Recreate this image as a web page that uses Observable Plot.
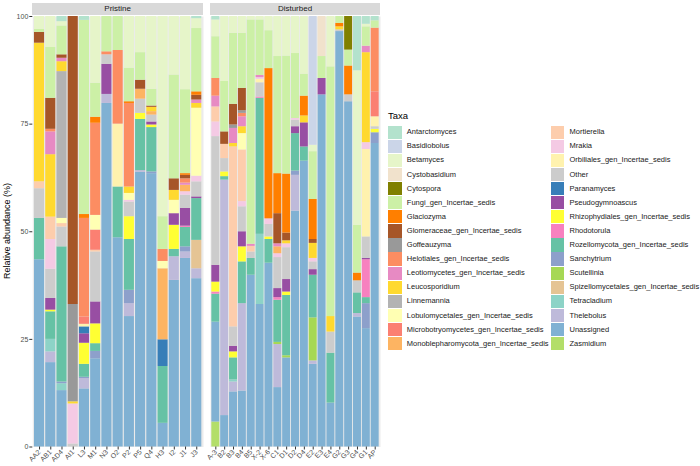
<!DOCTYPE html>
<html><head><meta charset="utf-8">
<script src="https://cdn.jsdelivr.net/npm/d3@7"></script>
<script src="https://cdn.jsdelivr.net/npm/@observablehq/plot@0.6"></script>
<style>
body{margin:0;background:#fff;font-family:"Liberation Sans",Arial,sans-serif;}
#wrap{position:relative;width:700px;height:466px;overflow:hidden;}
#wrap svg{position:absolute;top:0;}
.strip{position:absolute;top:3px;height:12px;line-height:12px;background:#D9D9D9;color:#1A1A1A;font-size:8px;text-align:center;}
.ytitle{position:absolute;left:-93px;top:225px;width:200px;height:12px;line-height:12px;font-size:9px;color:#000;text-align:center;transform:rotate(-90deg);}
.ltitle{position:absolute;left:388px;top:110px;font-size:9.5px;color:#000;line-height:12px;}
.key{position:absolute;width:13.4px;height:13.4px;}
.ltxt{position:absolute;font-size:7.5px;color:#1A1A1A;line-height:10px;white-space:nowrap;}
</style></head>
<body><div id="wrap"></div>
<script>
const taxa = ["Antarctomyces","Basidiobolus","Betamyces","Cystobasidium","Cytospora","Fungi_gen_Incertae_sedis","Glaciozyma","Glomeraceae_gen_Incertae_sedis","Goffeauzyma","Helotiales_gen_Incertae_sedis","Leotiomycetes_gen_Incertae_sedis","Leucosporidium","Linnemannia","Lobulomycetales_gen_Incertae_sedis","Microbotryomycetes_gen_Incertae_sedis","Monoblepharomycota_gen_Incertae_sedis","Mortierella","Mrakia","Orbiliales_gen_Incertae_sedis","Other","Paranamyces","Pseudogymnoascus","Rhizophydiales_gen_Incertae_sedis","Rhodotorula","Rozellomycota_gen_Incertae_sedis","Sanchytrium","Scutellinia","Spizellomycetales_gen_Incertae_sedis","Tetracladium","Thelebolus","Unassigned","Zasmidium"];
const taxaColors = ["#B3E2CD","#CBD5E8","#E6F5C9","#F1E2CC","#808000","#CCF0A6","#FF7F00","#A65628","#999999","#FC8D62","#E78AC3","#FFD92F","#B3B3B3","#FFFFB3","#FB8072","#FDB462","#FDCDAC","#F4CAE4","#FFF2AE","#CCCCCC","#377EB8","#984EA3","#FFFF33","#F781BF","#66C2A5","#8DA0CB","#A6D854","#E5C494","#8DD3C7","#BEBADA","#80B1D3","#B3DE69"];

const pristineSamples = ["AA2","AB1","AD4","AI1","L3","M1","N3","O2","P2","P5","Q4","H3","I2","J1","J3"];
const disturbedSamples = ["A-3","B2","B3","B4","B5","X-2","X-6","C1","D1","D2","D4","E2","E3","E4","G2","G3","G4","G1","AP"];

// relative abundance (%) per sample: [taxon, percent]
const s_AA2 = [["Unassigned",43.5],["Rozellomycota",9.6],["Other",6.9],["Mortierella",1.6],["Leucosporidium",32.2],["Glomeraceae",2.5],["Fungi",0.7],["Betamyces",3.0]];
const s_AB1 = [["Unassigned",19.6],["Thelebolus",2.5],["Tetracladium",2.9],["Rozellomycota",6.4],["Rhizophydiales",0.4],["Pseudogymnoascus",2.7],["Other",6.8],["Mrakia",6.9],["Mortierella",5.2],["Leucosporidium",14.5],["Leotiomycetes",5.3],["Helotiales",0.6],["Glomeraceae",7.2],["Fungi",11.8],["Betamyces",7.2]];
const s_AD4 = [["Unassigned",13.1],["Tetracladium",1.6],["Sanchytrium",0.4],["Rozellomycota",31.4],["Other",4.6],["Mortierella",0.8],["Lobulomycetales",1.2],["Linnemannia",34.1],["Leucosporidium",2.3],["Leotiomycetes",0.8],["Glomeraceae",0.8],["Fungi",6.7],["Betamyces",1.0],["Antarctomyces",1.2]];
const s_AI1 = [["Other",0.7],["Mrakia",9.3],["Leucosporidium",0.5],["Goffeauzyma",22.6],["Glomeraceae",66.9]];
const s_L3 = [["Unassigned",13.5],["Thelebolus",2.4],["Sanchytrium",0.3],["Rozellomycota",3.0],["Rhizophydiales",4.9],["Pseudogymnoascus",2.2],["Paranamyces",1.6],["Orbiliales",0.6],["Microbotryomycetes",1.7],["Helotiales",22.9],["Glaciozyma",0.9],["Fungi",45.1],["Antarctomyces",0.9]];
const s_M1 = [["Unassigned",20.5],["Sanchytrium",1.7],["Rozellomycota",1.8],["Rhizophydiales",4.6],["Pseudogymnoascus",5.1],["Other",11.6],["Mortierella",0.4],["Microbotryomycetes",4.7],["Lobulomycetales",3.4],["Helotiales",21.4],["Glaciozyma",1.4],["Fungi",7.9],["Betamyces",15.5]];
const s_N3 = [["Unassigned",79.8],["Thelebolus",2.1],["Pseudogymnoascus",7.0],["Other",2.2],["Helotiales",0.7],["Fungi",8.2]];
const s_O2 = [["Unassigned",48.6],["Rozellomycota",11.8],["Orbiliales",14.6],["Helotiales",17.1],["Fungi",7.9]];
const s_P2 = [["Unassigned",30.3],["Thelebolus",3.0],["Sanchytrium",3.1],["Rozellomycota",11.8],["Rhizophydiales",5.3],["Other",3.4],["Mrakia",0.4],["Lobulomycetales",1.6],["Leucosporidium",1.5],["Helotiales",19.4],["Glaciozyma",0.4],["Fungi",7.8],["Betamyces",12.0]];
const s_P5 = [["Unassigned",63.8],["Thelebolus",0.4],["Rozellomycota",11.9],["Rhizophydiales",1.4],["Other",3.3],["Monoblepharomycota",2.3],["Glomeraceae",2.1],["Fungi",6.4],["Betamyces",8.4]];
const s_Q4 = [["Unassigned",63.5],["Sanchytrium",0.4],["Rozellomycota",10.3],["Rhizophydiales",0.6],["Pseudogymnoascus",0.7],["Other",1.6],["Monoblepharomycota",0.8],["Leucosporidium",1.0],["Glomeraceae",0.3],["Fungi",3.9],["Betamyces",16.9]];
const s_H3 = [["Unassigned",5.5],["Rozellomycota",13.2],["Paranamyces",6.2],["Monoblepharomycota",16.5],["Lobulomycetales",1.7],["Helotiales",2.8],["Fungi",7.6],["Betamyces",46.5]];
const s_I2 = [["Unassigned",38.7],["Thelebolus",5.5],["Rozellomycota",1.7],["Rhizophydiales",5.6],["Pseudogymnoascus",2.7],["Lobulomycetales",3.1],["Leucosporidium",2.3],["Glomeraceae",2.7],["Fungi",24.1],["Betamyces",13.6]];
const s_J1 = [["Unassigned",43.8],["Thelebolus",1.5],["Sanchytrium",1.2],["Rozellomycota",4.5],["Rhodotorula",0.3],["Pseudogymnoascus",4.1],["Other",3.1],["Mrakia",0.8],["Monoblepharomycota",1.5],["Leotiomycetes",0.5],["Helotiales",1.0],["Glomeraceae",0.8],["Glaciozyma",0.4],["Fungi",19.5],["Betamyces",17.0]];
const s_J3 = [["Unassigned",39.1],["Thelebolus",2.3],["Spizellomycetales",6.6],["Rozellomycota",9.7],["Pseudogymnoascus",0.4],["Other",3.5],["Mrakia",1.3],["Lobulomycetales",15.8],["Leucosporidium",1.1],["Leotiomycetes",0.8],["Glomeraceae",1.1],["Glaciozyma",0.8],["Fungi",14.7],["Betamyces",2.3],["Antarctomyces",0.5]];

const s_A3 = [["Zasmidium",5.8],["Unassigned",23.2],["Rozellomycota",6.5],["Rhodotorula",0.5],["Rhizophydiales",2.3],["Pseudogymnoascus",3.9],["Other",29.9],["Mrakia",3.4],["Mortierella",3.5],["Leotiomycetes",2.5],["Helotiales",4.1],["Fungi",9.7],["Betamyces",3.9],["Antarctomyces",0.8]];
const s_B2 = [["Unassigned",7.3],["Thelebolus",54.7],["Rozellomycota",0.8],["Rhizophydiales",1.1],["Other",3.1],["Mortierella",3.3],["Glomeraceae",2.9],["Fungi",11.7],["Betamyces",15.1]];
const s_B3 = [["Unassigned",12.8],["Thelebolus",2.3],["Tetracladium",0.5],["Rozellomycota",5.1],["Rhizophydiales",1.4],["Pseudogymnoascus",1.3],["Other",4.5],["Mortierella",41.8],["Leucosporidium",0.8],["Leotiomycetes",3.5],["Goffeauzyma",0.8],["Glomeraceae",4.8],["Fungi",16.5],["Betamyces",3.9]];
const s_B4 = [["Unassigned",13.0],["Thelebolus",20.3],["Rozellomycota",9.7],["Rhizophydiales",3.5],["Pseudogymnoascus",3.5],["Other",5.8],["Mrakia",1.2],["Mortierella",12.0],["Lobulomycetales",3.8],["Leucosporidium",1.6],["Leotiomycetes",2.3],["Helotiales",0.8],["Goffeauzyma",0.6],["Glomeraceae",5.2],["Fungi",12.8],["Betamyces",3.9]];
const s_B5 = [["Unassigned",39.9],["Rozellomycota",3.9],["Other",1.5],["Mortierella",1.3],["Leotiomycetes",0.5],["Fungi",52.1],["Betamyces",0.8]];
const s_X2 = [["Unassigned",33.1],["Tetracladium",16.3],["Rozellomycota",31.6],["Rhodotorula",0.3],["Other",3.3],["Orbiliales",0.8],["Mrakia",0.4],["Leotiomycetes",0.5],["Fungi",12.9],["Betamyces",0.8]];
const s_X6 = [["Unassigned",42.7],["Rozellomycota",5.5],["Rhizophydiales",0.6],["Other",2.9],["Mrakia",1.3],["Glaciozyma",34.9],["Fungi",8.8],["Betamyces",3.3]];
const s_C1 = [["Unassigned",13.8],["Thelebolus",10.0],["Scutellinia",0.5],["Rozellomycota",9.8],["Rhodotorula",0.6],["Pseudogymnoascus",2.1],["Other",7.2],["Mrakia",0.9],["Monoblepharomycota",1.6],["Leotiomycetes",0.7],["Glomeraceae",7.0],["Glaciozyma",9.3],["Fungi",27.2],["Betamyces",9.3]];
const s_D1 = [["Unassigned",20.7],["Scutellinia",0.5],["Rozellomycota",14.0],["Rhizophydiales",0.8],["Pseudogymnoascus",2.9],["Other",7.4],["Mrakia",0.9],["Leucosporidium",0.7],["Glomeraceae",1.8],["Glaciozyma",13.7],["Fungi",27.4],["Betamyces",9.2]];
const s_D2 = [["Unassigned",54.8],["Thelebolus",8.3],["Sanchytrium",1.0],["Rozellomycota",8.7],["Pseudogymnoascus",1.6],["Other",1.5],["Mrakia",0.4],["Fungi",15.1],["Betamyces",8.6]];
const s_D4 = [["Unassigned",66.4],["Rozellomycota",3.3],["Pseudogymnoascus",5.6],["Leucosporidium",1.6],["Glaciozyma",4.6],["Fungi",5.1],["Betamyces",13.4]];
const s_E2 = [["Unassigned",19.2],["Thelebolus",0.8],["Scutellinia",10.0],["Rozellomycota",9.9],["Pseudogymnoascus",1.3],["Other",1.8],["Mrakia",0.8],["Leucosporidium",3.5],["Glomeraceae",0.9],["Glaciozyma",9.3],["Fungi",11.1],["Betamyces",1.5],["Basidiobolus",29.9]];
const s_E3 = [["Unassigned",81.8],["Pseudogymnoascus",3.8],["Fungi",5.1],["Cystobasidium",9.3]];
const s_E4 = [["Unassigned",10.2],["Rozellomycota",11.6],["Other",4.9],["Leucosporidium",3.6],["Fungi",58.0],["Betamyces",11.7]];
const s_G2 = [["Unassigned",96.5],["Other",0.4],["Leucosporidium",0.7],["Glaciozyma",0.8],["Fungi",1.6]];
const s_G3 = [["Unassigned",80.2],["Other",1.6],["Glaciozyma",6.7],["Fungi",3.7],["Cytospora",7.8]];
const s_G4 = [["Unassigned",30.2],["Thelebolus",0.8],["Rozellomycota",4.8],["Other",2.8],["Glaciozyma",1.8],["Fungi",11.1],["Betamyces",35.9],["Antarctomyces",12.6]];
const s_G1 = [["Unassigned",27.5],["Sanchytrium",5.8],["Rozellomycota",1.4],["Rhodotorula",8.8],["Pseudogymnoascus",0.3],["Other",5.0],["Orbiliales",20.3],["Mrakia",1.6],["Leucosporidium",20.9],["Leotiomycetes",1.5],["Fungi",4.5],["Betamyces",0.6],["Antarctomyces",1.8]];
const s_AP = [["Unassigned",70.5],["Sanchytrium",2.5],["Rhizophydiales",0.8],["Other",0.6],["Orbiliales",2.3],["Microbotryomycetes",5.8],["Helotiales",14.8],["Fungi",1.7],["Antarctomyces",1.0]];

const pristineComp = [s_AA2,s_AB1,s_AD4,s_AI1,s_L3,s_M1,s_N3,s_O2,s_P2,s_P5,s_Q4,s_H3,s_I2,s_J1,s_J3];
const disturbedComp = [s_A3,s_B2,s_B3,s_B4,s_B5,s_X2,s_X6,s_C1,s_D1,s_D2,s_D4,s_E2,s_E3,s_E4,s_G2,s_G3,s_G4,s_G1,s_AP];
const yTicks = [0,25,50,75,100];

const fullName = k => taxa.find(t => t === k || t.startsWith(k + "_gen"));
const stackOrder = taxa.slice().reverse();

function panel(samples, comps, o) {
  const rows = samples.flatMap((s, i) => comps[i].map(([k, v]) => ({sample: s, taxon: fullName(k), value: v})));
  const marks = [
    Plot.frame({fill: "#EBEBEB", stroke: "none"}),
    Plot.barY(rows, Plot.stackY({x: "sample", y: "value", fill: "taxon", order: stackOrder})),
    Plot.axisX({tickRotate: -45, tickSize: 3, tickPadding: 1, fontSize: 7, fill: "#4D4D4D", stroke: "#333333", label: null})
  ];
  if (o.yAxis) marks.push(Plot.axisY({ticks: yTicks, tickSize: 3, tickPadding: 1.5, fontSize: 7, fill: "#4D4D4D", stroke: "#333333", label: null}));
  return Plot.plot({
    width: o.width, height: 466,
    marginLeft: o.ml, marginRight: 0, marginTop: 16, marginBottom: 19.5,
    style: {overflow: "visible", fontFamily: "'Liberation Sans', Arial, sans-serif", background: "transparent"},
    x: {domain: samples, paddingInner: 0.1, paddingOuter: 0.15, round: false, label: null, axis: null},
    y: {domain: [0, 100], label: null, axis: null},
    color: {domain: taxa, range: taxaColors},
    marks
  });
}

const wrap = document.getElementById("wrap");
const p1 = panel(pristineSamples, pristineComp, {width: 203, ml: 32.3, yAxis: true});
p1.style.left = "0px";
wrap.appendChild(p1);
const p2 = panel(disturbedSamples, disturbedComp, {width: 175, ml: 5, yAxis: false});
p2.style.left = "205px";
wrap.appendChild(p2);

function addDiv(cls, text, css) {
  const d = document.createElement("div");
  d.className = cls; d.textContent = text;
  Object.assign(d.style, css || {});
  wrap.appendChild(d);
  return d;
}
addDiv("strip", "Pristine", {left: "32.3px", width: "170.7px"});
addDiv("strip", "Disturbed", {left: "210px", width: "170px"});
addDiv("ytitle", "Relative abundance (%)");
addDiv("ltitle", "Taxa");
taxa.forEach((t, i) => {
  const col = Math.floor(i / 16), row = i % 16;
  const kx = col === 0 ? 388.3 : 551;
  const cy = 132.2 + row * 14.1;
  addDiv("key", "", {left: kx + "px", top: (cy - 6.7) + "px", background: taxaColors[i]});
  addDiv("ltxt", t, {left: (kx + 18.5) + "px", top: (cy - 5) + "px"});
});
</script>
</body></html>
